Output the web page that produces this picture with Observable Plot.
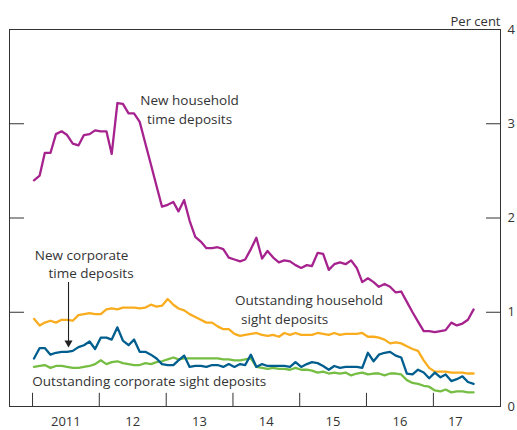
<!DOCTYPE html>
<html>
<head>
<meta charset="utf-8">
<script src="https://cdn.jsdelivr.net/npm/d3@7"></script>
<script src="https://cdn.jsdelivr.net/npm/@observablehq/plot@0.6"></script>
<style>
  body { margin: 0; background: #fff; }
  #chart svg { display: block; }
</style>
</head>
<body>
<div id="chart"></div>
<script>
// Monthly observations, January 2011 to August 2017 (per cent)
const newHouseholdTime = [
  2.40, 2.45, 2.69, 2.69, 2.89, 2.92, 2.88, 2.79, 2.77, 2.88, 2.89, 2.93,
  2.92, 2.92, 2.68, 3.22, 3.21, 3.11, 3.11, 3.02, 2.79, 2.57, 2.34, 2.12,
  2.14, 2.17, 2.07, 2.19, 1.97, 1.80, 1.75, 1.68, 1.68, 1.69, 1.67, 1.58,
  1.56, 1.54, 1.56, 1.67, 1.79, 1.57, 1.65, 1.58, 1.53, 1.55, 1.54, 1.50,
  1.47, 1.50, 1.49, 1.63, 1.62, 1.45, 1.51, 1.53, 1.51, 1.55, 1.47, 1.32,
  1.36, 1.32, 1.27, 1.30, 1.27, 1.21, 1.22, 1.11, 1.00, 0.90, 0.80, 0.80,
  0.79, 0.80, 0.81, 0.89, 0.86, 0.88, 0.92, 1.03
];
const outstandingHouseholdSight = [
  0.93, 0.86, 0.89, 0.91, 0.89, 0.92, 0.92, 0.91, 0.97, 0.98, 0.99, 0.98,
  0.98, 1.03, 1.04, 1.03, 1.05, 1.05, 1.05, 1.04, 1.05, 1.08, 1.06, 1.07,
  1.14, 1.08, 1.04, 1.02, 0.98, 0.95, 0.92, 0.89, 0.89, 0.85, 0.82, 0.82,
  0.77, 0.75, 0.76, 0.77, 0.78, 0.76, 0.75, 0.76, 0.74, 0.78, 0.76, 0.78,
  0.76, 0.76, 0.76, 0.78, 0.77, 0.76, 0.78, 0.76, 0.77, 0.77, 0.77, 0.78,
  0.74, 0.74, 0.73, 0.71, 0.67, 0.68, 0.67, 0.64, 0.61, 0.59, 0.49, 0.41,
  0.37, 0.37, 0.37, 0.36, 0.36, 0.36, 0.35, 0.35
];
const newCorporateTime = [
  0.51, 0.62, 0.62, 0.55, 0.57, 0.58, 0.58, 0.59, 0.63, 0.65, 0.69, 0.61,
  0.73, 0.73, 0.71, 0.84, 0.70, 0.65, 0.71, 0.58, 0.58, 0.55, 0.51, 0.45,
  0.44, 0.44, 0.49, 0.54, 0.42, 0.43, 0.43, 0.42, 0.44, 0.44, 0.42, 0.45,
  0.42, 0.45, 0.44, 0.55, 0.42, 0.45, 0.43, 0.43, 0.43, 0.43, 0.42, 0.47,
  0.42, 0.45, 0.47, 0.46, 0.43, 0.39, 0.43, 0.41, 0.42, 0.42, 0.42, 0.41,
  0.57, 0.48, 0.55, 0.57, 0.58, 0.54, 0.52, 0.35, 0.34, 0.39, 0.36, 0.30,
  0.36, 0.31, 0.34, 0.27, 0.29, 0.32, 0.26, 0.24
];
const outstandingCorporateSight = [
  0.42, 0.43, 0.44, 0.41, 0.43, 0.43, 0.42, 0.41, 0.41, 0.42, 0.43, 0.45,
  0.49, 0.45, 0.47, 0.48, 0.46, 0.45, 0.44, 0.44, 0.46, 0.45, 0.47, 0.48,
  0.50, 0.52, 0.50, 0.51, 0.51, 0.51, 0.51, 0.51, 0.51, 0.51, 0.50, 0.50,
  0.49, 0.49, 0.50, 0.51, 0.42, 0.41, 0.40, 0.41, 0.40, 0.40, 0.39, 0.41,
  0.39, 0.39, 0.38, 0.36, 0.37, 0.35, 0.36, 0.35, 0.36, 0.33, 0.35, 0.36,
  0.34, 0.35, 0.35, 0.33, 0.35, 0.35, 0.34, 0.28, 0.25, 0.24, 0.22, 0.21,
  0.17, 0.16, 0.18, 0.15, 0.16, 0.16, 0.15, 0.15
];

const yearLabels = ["2011", "12", "13", "14", "15", "16", "17"];
const yTicks = [0, 1, 2, 3, 4];

// annotation texts and their anchor positions (month index from Jan 2011, per cent)
const labelText = ["New household", "time deposits", "New corporate", "time deposits",
                   "Outstanding household", "sight deposits", "Outstanding corporate sight deposits"];
const labelMonth = [19.1, 20.3, 0.15, 2.6, 36.1, 37.2, -0.3];
const labelValue = [3.24, 3.04, 1.60, 1.41, 1.125, 0.92, 0.265];

const colors = {
  magenta: "#a6228e",
  orange: "#f9ad1e",
  blue: "#005e8f",
  green: "#76bd43"
};

const DAY = 864e5;
const origin = Date.UTC(2011, 0, 9);
const monthDate = m => new Date(origin + m * 30.44 * DAY);
const dates = newHouseholdTime.map((_, i) => new Date(Date.UTC(2011, i, 9)));

const series = [
  {values: outstandingHouseholdSight, color: colors.orange},
  {values: outstandingCorporateSight, color: colors.green},
  {values: newCorporateTime, color: colors.blue},
  {values: newHouseholdTime, color: colors.magenta}
];

const yearStarts = d3.range(2011, 2018).map(y => new Date(Date.UTC(y, 0, 1)));
const labelDates = yearLabels.map((l, i) =>
  i === yearLabels.length - 1 ? new Date(Date.UTC(2011 + i, 4, 1)) : new Date(Date.UTC(2011 + i, 6, 2)));
const labelFor = new Map(labelDates.map((d, i) => [+d, yearLabels[i]]));

const textColor = "#333";

const plot = Plot.plot({
  width: 517,
  height: 430,
  marginLeft: 9,
  marginRight: 17,
  marginTop: 29,
  marginBottom: 24,
  style: {fontFamily: "'Open Sans', sans-serif", fontSize: "13px", color: textColor, background: "#fff"},
  x: {type: "utc", domain: [new Date(Date.UTC(2010, 7, 28)), new Date(Date.UTC(2018, 0, 3))]},
  y: {domain: [0, 4]},
  marks: [
    Plot.frame({stroke: textColor, strokeWidth: 1}),
    Plot.axisY({anchor: "left", ticks: yTicks, tickSize: 15, dx: 15, tickFormat: () => "", label: null, stroke: textColor}),
    Plot.axisY({anchor: "right", ticks: yTicks, tickSize: 15, dx: -15, tickFormat: () => "", label: null, stroke: textColor}),
    Plot.axisY({anchor: "right", ticks: yTicks, tickSize: 0, tickPadding: 7, tickFormat: d => String(d), label: null, fontSize: 13}),
    Plot.ruleX(yearStarts, {x: d => d, y1: 0, y2: 0.14, stroke: textColor, strokeWidth: 1}),
    Plot.axisX({ticks: labelDates, tickSize: 0, tickPadding: 10, tickFormat: d => labelFor.get(+d), label: null, fontSize: 13}),
    ...series.map(s => Plot.line(s.values, {
      x: (d, i) => dates[i], y: d => d, stroke: s.color, strokeWidth: 2.3, strokeLinejoin: "round"
    })),
    Plot.text(labelText, {
      x: (d, i) => monthDate(labelMonth[i]), y: (d, i) => labelValue[i], text: d => d,
      textAnchor: "start", fill: textColor, fontSize: 13.5
    }),
    Plot.ruleX([0], {x: () => monthDate(6.2), y1: 1.316, y2: 0.68, stroke: "#222", strokeWidth: 1.1}),
    Plot.dot([0], {x: () => monthDate(6.2), y: 0.626, dy: -4.6, symbol: "triangle", rotate: 180, r: 3, fill: "#222", stroke: "none"}),
    Plot.text(["Per cent"], {frameAnchor: "top-right", dy: -13, textAnchor: "end", fill: textColor, fontSize: 13})
  ]
});

document.getElementById("chart").appendChild(plot);
</script>
</body>
</html>
